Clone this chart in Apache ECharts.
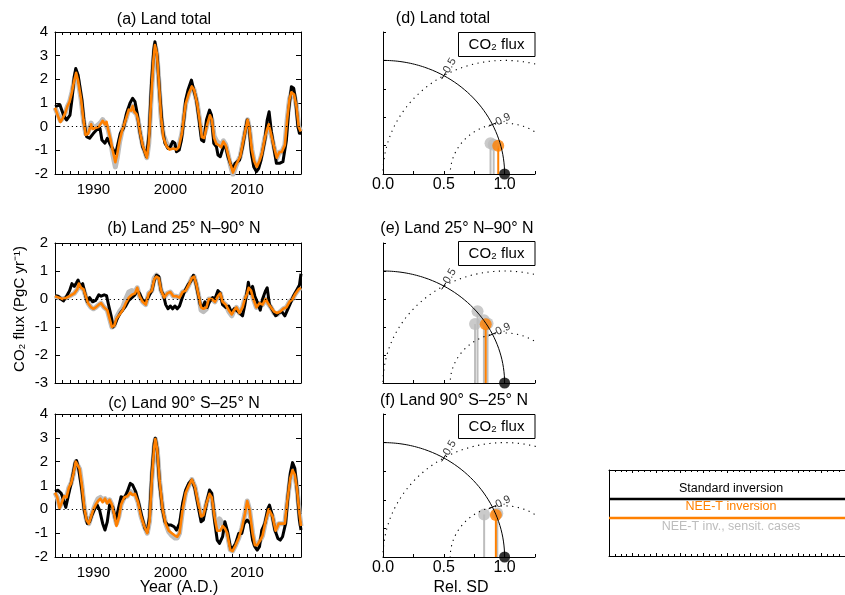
<!DOCTYPE html>
<html>
<head>
<meta charset="utf-8">
<script src="https://cdn.jsdelivr.net/npm/echarts@6/dist/echarts.min.js"></script>
<style>html,body{margin:0;padding:0;background:#fff}#box{width:845px;height:595px}</style>
</head>
<body>
<div id="box"></div>
<script>
// CO2 flux anomalies, [year, PgC/yr]
const aStd = [[1985,0.85],[1985.2,0.85],[1985.65,0.92],[1986.1,0.49],[1986.5,0.28],[1986.95,0.49],[1987.2,1.13],[1987.5,2.11],[1987.7,2.46],[1988,2.18],[1988.5,1.13],[1988.8,0.14],[1989.1,-0.42],[1989.5,-0.49],[1990,-0.28],[1990.4,-0.14],[1990.85,-0.07],[1991.1,-0.56],[1991.5,-0.7],[1991.8,-0.49],[1992.1,-0.7],[1992.6,-0.99],[1992.9,-1.13],[1993.2,-0.7],[1993.5,-0.28],[1993.9,-0.07],[1994.3,0.56],[1994.75,0.99],[1995.1,1.2],[1995.4,1.06],[1995.7,0.56],[1996,-0.14],[1996.4,-0.85],[1996.6,-0.99],[1996.9,-1.27],[1997.25,-0.28],[1997.55,1.83],[1997.85,3.24],[1998,3.59],[1998.3,2.96],[1998.65,1.27],[1999,-0.14],[1999.3,-0.7],[1999.7,-0.92],[2000,-0.85],[2000.3,-0.63],[2000.6,-0.7],[2000.8,-1.06],[2001.15,-0.99],[2001.45,-0.56],[2001.75,0.28],[2002,1.13],[2002.3,1.55],[2002.75,1.97],[2003.05,1.55],[2003.4,1.13],[2003.75,0.28],[2004.05,-0.56],[2004.35,-0.63],[2004.7,0.28],[2005.1,0.7],[2005.35,0.49],[2005.65,-0.7],[2006,-0.85],[2006.2,-1.2],[2006.5,-1.27],[2006.9,-0.85],[2007.2,-0.85],[2007.5,-1.27],[2007.8,-1.55],[2008.2,-1.83],[2008.4,-1.55],[2008.7,-1.48],[2009,-1.41],[2009.4,-0.85],[2009.7,-0.28],[2010,0.28],[2010.25,0],[2010.55,-1.13],[2010.85,-1.69],[2011.2,-1.9],[2011.5,-1.76],[2011.8,-1.41],[2012.3,-0.56],[2012.6,0.28],[2012.85,0.63],[2013.15,-0.21],[2013.45,-0.85],[2013.8,-1.55],[2014.2,-1.55],[2014.65,-1.48],[2015.1,-0.56],[2015.4,0.7],[2015.75,1.69],[2016.05,1.62],[2016.3,1.13],[2016.6,0],[2016.8,-0.28],[2017,-0.28]];
const aNee = [[1985,0.8],[1985.2,0.75],[1985.5,0.35],[1985.7,0.2],[1986,0.35],[1986.3,0.55],[1986.6,0.85],[1986.9,1.05],[1987.2,1.45],[1987.5,1.95],[1987.75,2.28],[1988,1.95],[1988.4,1.15],[1988.7,0.3],[1989,-0.35],[1989.3,-0.3],[1989.5,-0.1],[1989.7,0.1],[1989.9,-0.1],[1990.3,-0.05],[1990.7,0],[1991,0.15],[1991.2,0.25],[1991.5,0.1],[1991.7,0.2],[1991.9,-0.1],[1992.2,-0.5],[1992.5,-1],[1992.85,-1.5],[1993.1,-1.15],[1993.4,-0.6],[1993.7,-0.2],[1994,0.1],[1994.3,0.4],[1994.6,0.72],[1994.9,0.68],[1995.1,0.87],[1995.3,0.63],[1995.6,0.53],[1995.8,0.3],[1996.1,-0.3],[1996.4,-0.78],[1996.7,-1.07],[1996.95,-1.31],[1997.2,-0.7],[1997.5,1.15],[1997.8,2.8],[1998,3.45],[1998.25,3.1],[1998.5,1.95],[1998.8,0.4],[1999.1,-0.45],[1999.5,-0.82],[1999.9,-0.97],[2000.4,-0.92],[2000.8,-0.97],[2001.1,-0.87],[2001.5,-0.3],[2001.8,0.5],[2002,0.97],[2002.4,1.4],[2002.8,1.7],[2003.1,1.55],[2003.5,0.97],[2003.8,0.3],[2004.1,-0.44],[2004.4,-0.48],[2004.8,0.1],[2005.15,0.48],[2005.4,0.3],[2005.7,-0.48],[2006,-0.73],[2006.3,-0.78],[2006.6,-0.87],[2006.9,-0.63],[2007.2,-0.78],[2007.5,-1.16],[2007.8,-1.55],[2008.15,-1.94],[2008.5,-1.65],[2008.8,-1.45],[2009.1,-1.26],[2009.5,-0.58],[2009.8,-0.1],[2010.05,0.29],[2010.3,-0.1],[2010.6,-0.97],[2010.9,-1.45],[2011.25,-1.7],[2011.6,-1.45],[2011.9,-1.16],[2012.3,-0.48],[2012.6,-0.1],[2012.8,0.1],[2013.1,-0.3],[2013.5,-0.87],[2013.85,-1.31],[2014.2,-1.07],[2014.5,-1.07],[2014.9,-0.78],[2015.2,0.3],[2015.5,1.16],[2015.75,1.45],[2016.1,1.36],[2016.4,0.87],[2016.7,0],[2016.95,-0.2]];
const aSens = [[1985,0.8],[1985.2,0.8],[1985.5,0.42],[1985.7,0.25],[1986,0.35],[1986.3,0.55],[1986.6,0.85],[1986.9,1.05],[1987.2,1.45],[1987.5,1.95],[1987.75,2.28],[1988,1.95],[1988.4,1.15],[1988.7,0.3],[1989,-0.3],[1989.3,-0.25],[1989.5,-0.05],[1989.7,0.15],[1989.9,0],[1990.3,0],[1990.7,0.1],[1991,0.2],[1991.2,0.3],[1991.5,0.15],[1991.7,0.22],[1991.9,-0.1],[1992.2,-0.55],[1992.5,-1.15],[1992.85,-1.7],[1993.1,-1.3],[1993.4,-0.65],[1993.7,-0.2],[1994,0.1],[1994.3,0.4],[1994.6,0.75],[1994.9,0.7],[1995.1,0.87],[1995.3,0.63],[1995.6,0.53],[1995.8,0.3],[1996.1,-0.3],[1996.4,-0.78],[1996.7,-1.07],[1996.95,-1.31],[1997.2,-0.7],[1997.5,1.15],[1997.8,2.8],[1998,3.45],[1998.25,3.1],[1998.5,1.95],[1998.8,0.4],[1999.1,-0.35],[1999.5,-0.7],[1999.9,-0.85],[2000.4,-0.85],[2000.8,-0.9],[2001.1,-0.82],[2001.5,-0.3],[2001.8,0.5],[2002,0.97],[2002.4,1.4],[2002.8,1.7],[2003.1,1.55],[2003.5,0.97],[2003.8,0.3],[2004.1,-0.38],[2004.4,-0.35],[2004.8,0.1],[2005.15,0.48],[2005.4,0.3],[2005.7,-0.4],[2006,-0.6],[2006.3,-0.7],[2006.6,-0.8],[2006.9,-0.6],[2007.2,-0.75],[2007.5,-1.16],[2007.8,-1.6],[2008.15,-2.02],[2008.5,-1.7],[2008.8,-1.45],[2009.1,-1.26],[2009.5,-0.58],[2009.8,-0.1],[2010.05,0.29],[2010.3,-0.1],[2010.6,-0.97],[2010.9,-1.45],[2011.25,-1.75],[2011.6,-1.5],[2011.9,-1.16],[2012.3,-0.48],[2012.6,-0.1],[2012.8,0.1],[2013.1,-0.3],[2013.5,-0.87],[2013.85,-1.35],[2014.2,-1.07],[2014.5,-1.07],[2014.9,-0.78],[2015.2,0.3],[2015.5,1.16],[2015.75,1.45],[2016.1,1.36],[2016.4,0.87],[2016.7,0],[2016.95,-0.2]];

const bStd = [[1985,0.12],[1985.4,0.1],[1985.8,0],[1986.1,-0.07],[1986.5,0.1],[1986.9,0.3],[1987.2,0.55],[1987.5,0.45],[1987.8,0.58],[1988,0.68],[1988.3,0.45],[1988.6,0.55],[1988.9,0.2],[1989.2,-0.1],[1989.5,0.05],[1989.9,-0.1],[1990.3,-0.05],[1990.7,0.15],[1991,0.1],[1991.4,0.15],[1991.7,0.12],[1992,-0.25],[1992.3,-0.6],[1992.55,-1],[1992.8,-0.9],[1993.1,-0.7],[1993.5,-0.5],[1993.8,-0.4],[1994.2,-0.25],[1994.6,-0.05],[1995,0.05],[1995.4,0.15],[1995.7,0.3],[1996,0.2],[1996.4,-0.05],[1996.8,-0.1],[1997.2,0.1],[1997.6,0.3],[1997.9,0.65],[1998.2,0.85],[1998.5,0.8],[1998.8,0.3],[1999.1,0.15],[1999.4,-0.2],[1999.7,-0.35],[2000,-0.25],[2000.3,-0.35],[2000.6,-0.25],[2000.9,-0.35],[2001.2,-0.25],[2001.5,0],[2001.9,0.3],[2002.3,0.5],[2002.7,0.65],[2003,0.85],[2003.3,0.6],[2003.6,0.2],[2003.9,-0.2],[2004.2,-0.3],[2004.5,-0.1],[2004.8,-0.3],[2005.1,-0.1],[2005.5,0.05],[2005.8,0],[2006.2,0.3],[2006.5,0.2],[2006.8,-0.2],[2007.2,-0.3],[2007.6,-0.25],[2008,-0.5],[2008.3,-0.35],[2008.6,-0.4],[2009,-0.5],[2009.4,-0.6],[2009.7,-0.2],[2010,0.3],[2010.15,0.6],[2010.4,0.2],[2010.7,0.45],[2011,0.1],[2011.3,-0.1],[2011.7,-0.4],[2012,0],[2012.4,0.3],[2012.6,0.4],[2012.9,-0.2],[2013.3,-0.4],[2013.7,-0.6],[2014.1,-0.5],[2014.5,-0.45],[2014.9,-0.6],[2015.3,-0.35],[2015.7,-0.1],[2016,0.1],[2016.4,0.3],[2016.8,0.5],[2017,0.9]];
const bNee = [[1985,0.1],[1985.5,0.05],[1986,0],[1986.5,0.05],[1987,0.12],[1987.5,0.2],[1987.9,0.35],[1988.1,0.55],[1988.4,0.4],[1988.7,0.35],[1989,0.1],[1989.3,-0.15],[1989.7,-0.3],[1990,-0.35],[1990.3,-0.3],[1990.7,-0.2],[1991,-0.15],[1991.4,-0.3],[1991.8,-0.4],[1992.1,-0.7],[1992.4,-1],[1992.7,-0.95],[1993,-0.7],[1993.4,-0.55],[1993.8,-0.4],[1994.2,-0.15],[1994.6,0.05],[1995,0.15],[1995.4,0.2],[1995.7,0.4],[1996,0.1],[1996.4,-0.1],[1996.8,-0.2],[1997.2,0.2],[1997.6,0.3],[1997.9,0.7],[1998.2,0.8],[1998.5,0.75],[1998.8,0.3],[1999.2,0.05],[1999.6,0.2],[2000,0.25],[2000.4,0.1],[2000.8,0.1],[2001.2,0.05],[2001.6,0.25],[2002,0.3],[2002.4,0.5],[2002.8,0.75],[2003.1,0.8],[2003.4,0.5],[2003.7,0.1],[2004,-0.3],[2004.3,-0.35],[2004.7,-0.3],[2005,0],[2005.4,0],[2005.8,-0.1],[2006.2,0.1],[2006.5,0.2],[2006.8,-0.1],[2007.2,-0.2],[2007.6,-0.4],[2008,-0.55],[2008.3,-0.4],[2008.6,-0.3],[2009,-0.5],[2009.4,-0.3],[2009.7,0],[2010,0.2],[2010.2,0.4],[2010.5,0.3],[2010.8,0],[2011.2,-0.3],[2011.6,-0.15],[2012,-0.2],[2012.4,0],[2012.7,-0.15],[2013.1,-0.3],[2013.5,-0.45],[2013.9,-0.5],[2014.3,-0.45],[2014.7,-0.35],[2015.1,-0.3],[2015.5,-0.1],[2015.9,0],[2016.3,0.2],[2016.7,0.35],[2017,0.4]];
const bSens = [[1985,0.1],[1985.5,0.05],[1986,0],[1986.5,0.05],[1987,0.12],[1987.5,0.2],[1987.9,0.35],[1988.1,0.5],[1988.4,0.4],[1988.7,0.35],[1989,0.1],[1989.3,-0.15],[1989.7,-0.3],[1990,-0.35],[1990.3,-0.3],[1990.7,-0.2],[1991,-0.15],[1991.4,-0.3],[1991.8,-0.4],[1992.1,-0.7],[1992.4,-1],[1992.7,-0.95],[1993,-0.65],[1993.4,-0.45],[1993.8,-0.3],[1994.2,0],[1994.6,0.25],[1995,0.3],[1995.4,0.25],[1995.7,0.4],[1996,0.1],[1996.4,-0.1],[1996.8,-0.2],[1997.2,0.2],[1997.6,0.3],[1997.9,0.75],[1998.2,0.85],[1998.5,0.75],[1998.8,0.3],[1999.2,0.05],[1999.6,0.2],[2000,0.25],[2000.4,0.1],[2000.8,0.1],[2001.2,0.05],[2001.6,0.25],[2002,0.3],[2002.4,0.5],[2002.8,0.75],[2003.1,0.8],[2003.4,0.5],[2003.7,0.1],[2004,-0.4],[2004.3,-0.45],[2004.7,-0.35],[2005,0],[2005.4,0],[2005.8,-0.1],[2006.2,0.1],[2006.5,0.2],[2006.8,-0.1],[2007.2,-0.2],[2007.6,-0.45],[2008,-0.6],[2008.3,-0.4],[2008.6,-0.3],[2009,-0.5],[2009.4,-0.3],[2009.7,0],[2010,0.2],[2010.2,0.4],[2010.5,0.3],[2010.8,0],[2011.2,-0.3],[2011.6,-0.15],[2012,-0.2],[2012.4,0],[2012.7,-0.15],[2013.1,-0.3],[2013.5,-0.5],[2013.9,-0.55],[2014.3,-0.45],[2014.7,-0.35],[2015.1,-0.3],[2015.5,-0.1],[2015.9,0],[2016.3,0.2],[2016.7,0.35],[2017,0.4]];

const cStd = [[1985,0.75],[1985.4,0.8],[1985.8,0.67],[1986.1,0.4],[1986.4,0.08],[1986.8,0.67],[1987.2,1.23],[1987.6,1.93],[1987.8,2.05],[1988.1,1.65],[1988.5,0.8],[1988.8,-0.03],[1989.2,-0.59],[1989.5,-0.52],[1989.8,-0.24],[1990.2,0.04],[1990.5,0.18],[1990.8,-0.03],[1991.2,-0.59],[1991.5,-0.87],[1991.8,-0.52],[1992.1,0.18],[1992.5,0.11],[1992.9,-0.45],[1993.2,-0.03],[1993.6,0.53],[1994,0.46],[1994.4,0.74],[1994.8,1.09],[1995.1,1.02],[1995.5,0.74],[1995.9,0.25],[1996.3,-0.31],[1996.7,-0.8],[1997,-0.94],[1997.3,-0.31],[1997.6,1.51],[1997.9,2.77],[1998.05,2.98],[1998.3,2.49],[1998.6,1.09],[1999,-0.03],[1999.3,-0.52],[1999.7,-0.66],[2000.1,-0.66],[2000.5,-0.73],[2000.8,-0.87],[2001.2,-0.59],[2001.6,0.25],[2002,0.81],[2002.4,1.09],[2002.8,1.23],[2003.2,0.88],[2003.6,0.18],[2004,-0.52],[2004.3,-0.45],[2004.7,0.25],[2005.1,0.81],[2005.4,0.67],[2005.8,-0.59],[2006.1,-1.29],[2006.4,-1.43],[2006.8,-1.15],[2007.1,-0.52],[2007.4,-0.87],[2007.8,-1.57],[2008.1,-1.64],[2008.5,-1.43],[2008.9,-1.01],[2009.3,-1.01],[2009.6,-0.59],[2010,-0.45],[2010.4,-0.59],[2010.7,-1.29],[2011,-1.57],[2011.3,-1.71],[2011.6,-1.57],[2011.9,-0.87],[2012.3,-0.59],[2012.7,0.04],[2012.9,0.18],[2013.2,-0.17],[2013.6,-0.87],[2014,-1.22],[2014.3,-1.29],[2014.6,-1.15],[2015,-0.59],[2015.3,0.53],[2015.6,1.51],[2015.9,1.96],[2016.2,1.72],[2016.5,0.81],[2016.8,-0.45],[2017,-0.87]];
const cNee = [[1985,0.7],[1985.3,0.5],[1985.6,0.05],[1985.9,0.3],[1986.2,0.55],[1986.5,0.5],[1986.8,0.9],[1987.1,1.1],[1987.4,1.5],[1987.7,2],[1987.9,2.05],[1988.2,1.7],[1988.5,1],[1988.8,0.1],[1989.1,-0.45],[1989.4,-0.6],[1989.7,-0.3],[1990,0],[1990.3,0.2],[1990.6,0.35],[1990.9,0.45],[1991.2,0.3],[1991.5,0.45],[1991.8,0.25],[1992.1,0.4],[1992.4,0.2],[1992.7,-0.2],[1993,-0.7],[1993.3,-0.35],[1993.6,0.2],[1994,0.5],[1994.4,0.55],[1994.8,0.7],[1995.1,0.6],[1995.4,0.65],[1995.8,0.3],[1996.2,-0.3],[1996.6,-0.7],[1997,-1],[1997.3,-0.5],[1997.6,1.3],[1997.9,2.6],[1998.05,2.95],[1998.3,2.5],[1998.6,1.2],[1999,0],[1999.4,-0.6],[1999.8,-0.9],[2000.2,-1],[2000.6,-1.1],[2000.9,-1.15],[2001.2,-1],[2001.6,0],[2002,0.7],[2002.4,1],[2002.8,1.25],[2003.2,0.95],[2003.6,0.3],[2004,-0.3],[2004.3,-0.25],[2004.7,0.25],[2005.1,0.65],[2005.4,0.5],[2005.8,-0.4],[2006.1,-0.9],[2006.5,-0.9],[2006.8,-0.7],[2007.1,-0.8],[2007.4,-1],[2007.8,-1.7],[2008.1,-1.75],[2008.5,-1.5],[2008.9,-1.2],[2009.3,-0.8],[2009.7,-0.2],[2010,0.35],[2010.3,0],[2010.7,-1],[2011,-1.5],[2011.3,-1.5],[2011.7,-1.3],[2012,-1.1],[2012.4,-0.5],[2012.8,0],[2013,0.05],[2013.3,-0.3],[2013.7,-0.9],[2014.1,-0.6],[2014.5,-0.6],[2014.9,-0.6],[2015.2,0.3],[2015.6,1.3],[2015.9,1.65],[2016.2,1.45],[2016.5,0.8],[2016.8,-0.2],[2017,-0.7]];
const cSens = [[1985,0.7],[1985.3,0.5],[1985.6,0.1],[1985.9,0.3],[1986.2,0.55],[1986.5,0.5],[1986.8,0.9],[1987.1,1.1],[1987.4,1.5],[1987.7,2],[1987.9,2.05],[1988.2,1.7],[1988.5,1],[1988.8,0.1],[1989.1,-0.45],[1989.4,-0.6],[1989.7,-0.3],[1990,0],[1990.3,0.25],[1990.6,0.45],[1990.9,0.5],[1991.2,0.4],[1991.5,0.45],[1991.8,0.3],[1992.1,0.4],[1992.4,0.2],[1992.7,-0.2],[1993,-0.6],[1993.3,-0.3],[1993.6,0.2],[1994,0.5],[1994.4,0.55],[1994.8,0.75],[1995.1,0.65],[1995.4,0.65],[1995.8,0.3],[1996.2,-0.3],[1996.6,-0.7],[1997,-1],[1997.3,-0.5],[1997.6,1.3],[1997.9,2.6],[1998.05,2.95],[1998.3,2.5],[1998.6,1.2],[1999,0],[1999.4,-0.6],[1999.8,-0.95],[2000.2,-1.1],[2000.6,-1.2],[2000.9,-1.2],[2001.2,-1],[2001.6,0],[2002,0.7],[2002.4,1],[2002.8,1.25],[2003.2,0.95],[2003.6,0.3],[2004,-0.3],[2004.3,-0.25],[2004.7,0.25],[2005.1,0.65],[2005.4,0.5],[2005.8,-0.4],[2006.1,-0.8],[2006.4,-0.4],[2006.8,-0.6],[2007.1,-0.8],[2007.4,-1],[2007.8,-1.7],[2008.1,-1.75],[2008.5,-1.5],[2008.9,-1.2],[2009.3,-0.8],[2009.7,-0.2],[2010,0.35],[2010.3,0],[2010.7,-1],[2011,-1.5],[2011.3,-1.5],[2011.7,-1.3],[2012,-1.1],[2012.4,-0.5],[2012.8,0],[2013,0.05],[2013.3,-0.3],[2013.7,-0.9],[2014.1,-0.6],[2014.5,-0.6],[2014.9,-0.6],[2015.2,0.3],[2015.6,1.3],[2015.9,1.65],[2016.2,1.45],[2016.5,0.8],[2016.8,-0.2],[2017,-0.7]];

const yearLabels = [1990, 2000, 2010];

// Taylor diagrams: relative SD and correlation
const dSensSD = [0.925, 0.946], dSensR = [0.956, 0.962];
const dNeeSD = [0.980], dNeeR = [0.967];
const eSensSD = [1.007, 0.922, 1.001, 1.01], eSensR = [0.772, 0.821, 0.829, 0.851];
const eNeeSD = [0.994], eNeeR = [0.850];
const fSensSD = [0.911, 1.014], fSensR = [0.913, 0.927];
const fNeeSD = [0.998], fNeeR = [0.930];
const refSD = 1, refR = 1;
const corrMarks = [0.5, 0.9];
const sdLabels = [0, 0.5, 1];

const FONT = 'Liberation Sans, Arial, Helvetica, sans-serif';
const ORANGE = '#ff8000', GREY = '#bdbdbd';

let box = document.getElementById('box');
let chart = echarts.init(box);

const tsGrids = [
  {left: 55, top: 32, width: 246, height: 142, min: -2, max: 4, labels: true},
  {left: 55, top: 243, width: 246, height: 140, min: -3, max: 2, labels: false},
  {left: 55, top: 414, width: 246, height: 143, min: -2, max: 4, labels: true}
];
const tyGrids = [
  {left: 383, top: 32, width: 152, height: 142, labels: true},
  {left: 383, top: 243, width: 152, height: 140, labels: false},
  {left: 383, top: 414, width: 152, height: 143, labels: true}
];

let grid = [], xAxis = [], yAxis = [], series = [];
const blk = {color: '#000', width: 1};

tsGrids.forEach(function (g, i) {
  grid.push({left: g.left, top: g.top, width: g.width, height: g.height});
  ['bottom', 'top'].forEach(function (pos) {
    xAxis.push({
      gridIndex: i, type: 'value', min: 1985, max: 2017, interval: 1, position: pos,
      axisLine: {onZero: false, lineStyle: blk},
      axisTick: {inside: true, length: 3, lineStyle: blk},
      axisLabel: {show: pos == 'bottom' && g.labels, customValues: yearLabels, formatter: v => String(v),
        color: '#000', fontSize: 15, fontFamily: FONT, margin: 8},
      splitLine: {show: false}
    });
  });
  ['left', 'right'].forEach(function (pos) {
    yAxis.push({
      gridIndex: i, type: 'value', min: g.min, max: g.max, interval: 1, position: pos,
      axisLine: {onZero: false, lineStyle: blk},
      axisTick: {inside: true, length: 5, lineStyle: blk},
      axisLabel: {show: pos == 'left', color: '#000', fontSize: 15, fontFamily: FONT, margin: 7},
      splitLine: {show: false}
    });
  });
});

tyGrids.forEach(function (g, i) {
  grid.push({left: g.left, top: g.top, width: g.width, height: g.height});
  xAxis.push({
    gridIndex: 3 + i, type: 'value', min: 0, max: 1.25, interval: 0.25,
    axisLine: {onZero: false, lineStyle: blk},
    axisTick: {inside: true, length: 3, lineStyle: blk},
    axisLabel: {show: g.labels, customValues: sdLabels, formatter: v => v.toFixed(1), color: '#000', fontSize: 16, fontFamily: FONT, margin: 3},
    splitLine: {show: false}
  });
  yAxis.push({
    gridIndex: 3 + i, type: 'value', min: 0, max: 1.25, interval: 0.25,
    axisLine: {onZero: false, lineStyle: blk},
    axisTick: {inside: true, length: 3, lineStyle: blk},
    axisLabel: {show: false}, splitLine: {show: false}
  });
});

// legend frame
grid.push({left: 609, top: 470, width: 250, height: 86});
['bottom', 'top'].forEach(function (pos) {
  xAxis.push({
    gridIndex: 6, type: 'value', min: 0, max: 10, interval: 1, position: pos,
    axisLine: {onZero: false, lineStyle: blk},
    axisTick: {inside: true, length: 3, lineStyle: blk},
    minorTick: {show: true, splitNumber: 4, length: 2, lineStyle: blk},
    axisLabel: {show: false}, splitLine: {show: false}
  });
});
yAxis.push({gridIndex: 6, type: 'value', min: 0, max: 1, axisLine: {onZero: false, lineStyle: blk},
  axisTick: {show: false}, axisLabel: {show: false}, splitLine: {show: false}});

// time series
const tsData = [[aSens, aStd, aNee], [bSens, bStd, bNee], [cSens, cStd, cNee]];
tsData.forEach(function (d, i) {
  let base = {type: 'line', xAxisIndex: 2 * i, yAxisIndex: 2 * i, showSymbol: false, symbol: 'none', silent: true};
  series.push(Object.assign({}, base, {
    data: d[0], lineStyle: {color: GREY, width: 5, join: 'round'},
    markLine: {silent: true, symbol: 'none', label: {show: false},
      lineStyle: {color: '#000', type: [1.2, 3], width: 1.2}, data: [{yAxis: 0}]}
  }));
  series.push(Object.assign({}, base, {data: d[1], lineStyle: {color: '#000', width: 3, join: 'round'}}));
  series.push(Object.assign({}, base, {data: d[2], lineStyle: {color: ORANGE, width: 2.6, join: 'round'}}));
});

// Taylor diagrams
function xy(sd, r) { return [sd * r, sd * Math.sqrt(1 - r * r)]; }
function circle(cx, rad) {
  let pts = [];
  for (let k = 0; k <= 180; k++) {
    let t = k * Math.PI / 180;
    pts.push([cx + rad * Math.cos(t), rad * Math.sin(t)]);
  }
  return pts;
}
const unitArc = circle(0, 1).slice(0, 91);
const tyData = [[dSensSD, dSensR, dNeeSD, dNeeR], [eSensSD, eSensR, eNeeSD, eNeeR], [fSensSD, fSensR, fNeeSD, fNeeR]];
tyData.forEach(function (d, i) {
  let ax = {xAxisIndex: 6 + i, yAxisIndex: 6 + i, silent: true};
  corrMarks.forEach(function (c) {
    series.push(Object.assign({type: 'line', data: circle(1, Math.sqrt(2 - 2 * c)), showSymbol: false, symbol: 'none',
      lineStyle: {color: '#000', width: 1.1, type: [1.2, 4.5]}}, ax));
    series.push(Object.assign({type: 'line', data: [xy(0.965, c), xy(1.035, c)], showSymbol: false, symbol: 'none',
      lineStyle: {color: '#000', width: 1}}, ax));
  });
  series.push(Object.assign({type: 'line', data: unitArc, showSymbol: false, symbol: 'none',
    lineStyle: {color: '#000', width: 1}}, ax));
  series.push(Object.assign({type: 'scatter', symbolSize: 0, clip: false,
    data: corrMarks.map(c => ({value: xy(1.035, c), label: {rotate: Math.acos(c) * 180 / Math.PI}})),
    label: {show: true, position: 'right', distance: 0, formatter: p => corrMarks[p.dataIndex].toFixed(1),
      color: '#000', fontSize: 11, fontFamily: FONT}}, ax));
  let stems = d[0].map((s, k) => ({value: xy(s, d[1][k]), itemStyle: {color: GREY}}))
    .concat(d[2].map((s, k) => ({value: xy(s, d[3][k]), itemStyle: {color: ORANGE}})));
  series.push(Object.assign({type: 'bar', barWidth: 2, data: stems}, ax));
  series.push(Object.assign({type: 'scatter', symbolSize: 12, clip: false, itemStyle: {color: GREY},
    data: d[0].map((s, k) => xy(s, d[1][k]))}, ax));
  series.push(Object.assign({type: 'scatter', symbolSize: 12, clip: false, itemStyle: {color: ORANGE},
    data: d[2].map((s, k) => xy(s, d[3][k]))}, ax));
  series.push(Object.assign({type: 'scatter', symbolSize: 11, clip: false, itemStyle: {color: '#000'},
    data: [xy(refSD, refR)]}, ax));
});

function txt(x, y, s, size, extra) {
  return {type: 'text', x: x, y: y, z: 100, silent: true,
    style: Object.assign({text: s, fontSize: size, fontFamily: FONT, fill: '#000', align: 'center', verticalAlign: 'middle'}, extra || {})};
}
let graphic = [
  txt(164, 20, '(a) Land total', 16),
  txt(184, 229, '(b) Land 25° N–90° N', 16),
  txt(184, 404, '(c) Land 90° S–25° N', 16),
  txt(443, 19, '(d) Land total', 16),
  txt(457, 229, '(e) Land 25° N–90° N', 16),
  txt(454, 401, '(f) Land 90° S–25° N', 16),
  txt(179, 588, 'Year (A.D.)', 16),
  txt(461, 588, 'Rel. SD', 16),
  Object.assign(txt(20, 309, 'CO₂ flux (PgC yr⁻¹)', 15), {rotation: Math.PI / 2}),
  txt(731, 489, 'Standard inversion', 12.5),
  txt(731, 507, 'NEE-T inversion', 12.5, {fill: ORANGE}),
  txt(731, 527, 'NEE-T inv., sensit. cases', 12.5, {fill: GREY}),
  {type: 'line', z: 100, shape: {x1: 609, y1: 499, x2: 845, y2: 499}, style: {stroke: '#000', lineWidth: 2.5}},
  {type: 'line', z: 100, shape: {x1: 609, y1: 518, x2: 845, y2: 518}, style: {stroke: ORANGE, lineWidth: 2.5}}
];
[32, 241, 414].forEach(function (t) {
  graphic.push({type: 'rect', z: 100, shape: {x: 458.5, y: t + 0.5, width: 76.5, height: 24},
    style: {fill: '#fff', stroke: '#000', lineWidth: 1}});
  graphic.push(txt(496.5, t + 12.5, 'CO₂ flux', 15));
});

let options = {
  backgroundColor: '#fff',
  animation: false,
  grid: grid, xAxis: xAxis, yAxis: yAxis, series: series, graphic: graphic
};
chart.setOption(options);
</script>
</body>
</html>
